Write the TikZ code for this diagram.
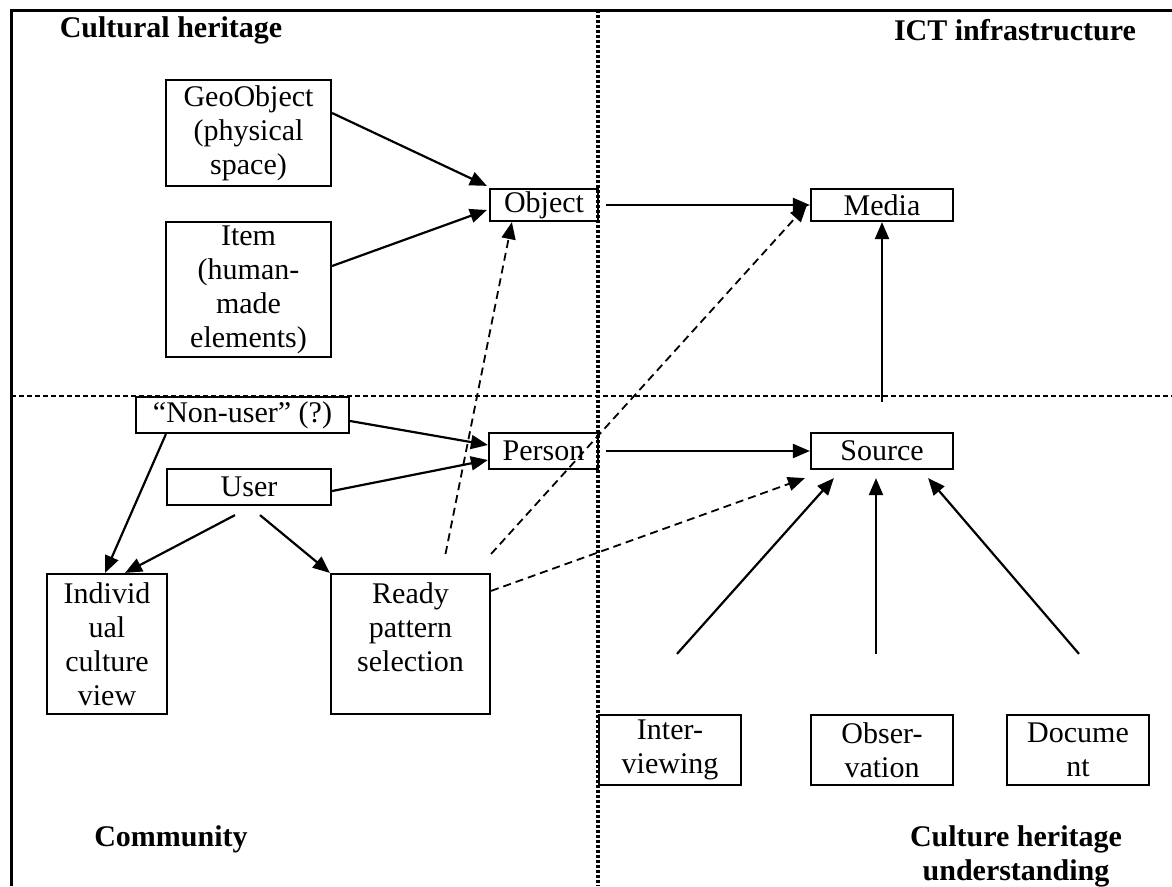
\documentclass[tikz,border=0pt]{standalone}
\usepackage{fontspec}
\setmainfont{Liberation Serif}
\usetikzlibrary{arrows.meta}

\begin{document}
\begin{tikzpicture}[x=1pt,y=-1pt,>={Triangle[length=17pt,width=14pt]},
	box/.style={draw,line width=2.2pt,inner sep=0pt,align=center,font=\fontsize{30}{34}\selectfont},
	heading/.style={inner sep=0pt,align=center,font=\fontsize{30}{34}\selectfont\bfseries},
	arr/.style={->,line width=2.2pt},
	darr/.style={->,line width=1.8pt,dash pattern=on 8pt off 5pt}]

\useasboundingbox (0,0) rectangle (1172,886);

% frame and quadrants
\draw [line width=3pt] (11,886) -- (11,10) -- (1172,10);
\draw [line width=3.5pt,dash pattern=on 3pt off 2pt] (598,10) -- (598,886);
\draw [line width=1.8pt,dash pattern=on 5pt off 3pt] (11,396) -- (1172,396);

\node [heading] (ch)  at (171,30)   {Cultural heritage};
\node [heading] (ict) at (1015,30)  {ICT infrastructure};
\node [heading] (com) at (171,839)  {Community};
\node [heading] (chu) at (1016,856) {Culture heritage\\understanding};

%%%%%%%%%%%%%%%%%%%%%%%%%%%%%%%%%%%%%%%%%%%%%%%%%%%%%%%%%%%%%%%%

\node [box,minimum width=165pt,minimum height=106pt] (geo)   at (248.5,133) {GeoObject\\(physical\\space)};
\node [box,minimum width=165pt,minimum height=135pt] (item)  at (248.5,289.5) {Item\\(human-\\made\\elements)};
\node [box,minimum width=108pt,minimum height=32pt]  (obj)   at (544,205) {Object};
\node [box,minimum width=142pt,minimum height=32pt]  (media) at (882,205) {Media};

\node [box,minimum width=213pt,minimum height=36pt]  (nonuser) at (242.5,415) {“Non-user” (?)};
\node [box,minimum width=164pt,minimum height=36pt]  (user)    at (249,487) {User};
\node [box,minimum width=109pt,minimum height=36pt]  (person)  at (543.5,451) {Person};
\node [box,minimum width=142pt,minimum height=36pt]  (source)  at (882,451) {Source};

\node [box,minimum width=120pt,minimum height=140pt] (indiv) at (107,644) {Individ\\ual\\culture\\view};
\node [box,minimum width=159pt,minimum height=140pt] (ready) at (410.5,644) {Ready\\pattern\\selection\\~};

\node [box,minimum width=142pt,minimum height=70pt] (inter) at (670,750)  {Inter-\\viewing};
\node [box,minimum width=142pt,minimum height=70pt] (obs)   at (882,750)  {Obser-\\vation};
\node [box,minimum width=142pt,minimum height=70pt] (doc)   at (1078,750) {Docume\\nt};

%%%%%%%%%%%%%%%%%%%%%%%%%%%%%%%%%%%%%%%%%%%%%%%%%%%%%%%%%%%%%%%%

\draw [arr] ([yshift=20pt]geo.east) -- ([shift={(-2pt,2pt)}]obj.north west);
\draw [arr] ([yshift=23.5pt]item.east) -- ([shift={(-2pt,-5pt)}]obj.west);
\draw [arr,shorten <=7pt] (obj.east) -- (media.west);
\draw [arr,shorten <=30pt] (source.north) -- (media.south);

\draw [arr] ([yshift=-6pt]nonuser.east) -- ([yshift=6pt]person.west);
\draw [arr] ([yshift=-4pt]user.east) -- ([yshift=-9pt]person.west);
\draw [arr,shorten <=7pt] (person.east) -- (source.west);

\draw [arr] ([xshift=31pt]nonuser.south west) -- ([xshift=-2pt]indiv.north);
\draw [arr] ([shift={(-14pt,-9pt)}]user.south) -- ([xshift=18pt]indiv.north);
\draw [arr] ([shift={(11pt,-9pt)}]user.south) -- (ready.north west);

\draw [darr] ([shift={(35pt,19pt)}]ready.north) -- ([xshift=23pt]obj.south west);
\draw [darr] ([yshift=19pt]ready.north east) -- ([shift={(-3pt,0pt)}]media.west);
\draw [darr] ([yshift=-18pt]ready.north east) -- ([shift={(-5pt,-8pt)}]source.south west);

\draw [arr] ([shift={(7pt,60pt)}]inter.north) -- ([shift={(24pt,-8pt)}]source.south west);
\draw [arr] ([shift={(-6pt,60pt)}]obs.north)  -- ([shift={(-6pt,-8pt)}]source.south);
\draw [arr] ([shift={(1pt,60pt)}]doc.north)   -- ([shift={(-26pt,-8pt)}]source.south east);

\end{tikzpicture}
\end{document}
